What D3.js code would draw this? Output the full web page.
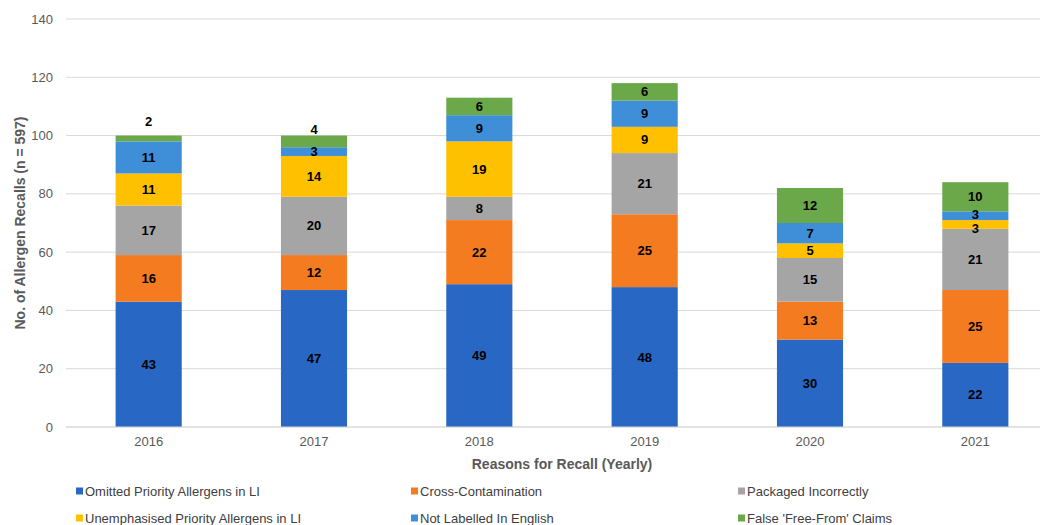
<!DOCTYPE html>
<html><head><meta charset="utf-8">
<script src="https://cdn.jsdelivr.net/npm/d3@7"></script>
<style>body{margin:0;background:#fff;overflow:hidden}svg{display:block;font-family:"Liberation Sans",Arial,sans-serif}</style>
</head><body>
<svg id="c" width="1040" height="525"></svg>
<script>
const years = ["2016","2017","2018","2019","2020","2021"];
const seriesNames = ["Omitted Priority Allergens in LI","Cross-Contamination","Packaged Incorrectly","Unemphasised Priority Allergens in LI","Not Labelled In English","False 'Free-From' Claims"];
const omitted = [43,47,49,48,30,22];
const crossCont = [16,12,22,25,13,25];
const packaged = [17,20,8,21,15,21];
const unemphasised = [11,14,19,9,5,3];
const notEnglish = [11,3,9,9,7,3];
const freeFrom = [2,4,6,6,12,10];
const yTicks = [0,20,40,60,80,100,120,140];
const colors = ["#2967C4","#F47B20","#A5A5A5","#FFC000","#3F8FD8","#6AA84A"];
// label nudges (px) for specific labels: [seriesIndex, yearIndex, dy]
const labelNudges = [[5,0,-17],[5,1,-12],[4,5,-1],[3,5,4]];

const svg = d3.select("#c");
const seriesVals = [omitted,crossCont,packaged,unemphasised,notEnglish,freeFrom];
const rows = years.map((y,i)=>{const o={year:y};seriesNames.forEach((s,j)=>o[s]=seriesVals[j][i]);return o;});
const stack = d3.stack().keys(seriesNames)(rows);

const x = d3.scaleBand().domain(years).range([66,1058]).paddingInner(0.6).paddingOuter(0.3);
const y = d3.scaleLinear().domain([0,140]).range([427,19]);

// grid
svg.append("g").selectAll("line").data(yTicks).join("line")
  .attr("x1",66).attr("x2",1040).attr("y1",d=>y(d)).attr("y2",d=>y(d))
  .attr("stroke","#d9d9d9").attr("stroke-width",1);

// y tick labels
svg.append("g").selectAll("text").data(yTicks).join("text")
  .attr("x",53).attr("y",d=>y(d)).attr("dy","0.35em").attr("text-anchor","end")
  .attr("font-size",13).attr("fill","#595959").text(d=>d);

// bars
stack.forEach((s,si)=>{
  svg.append("g").attr("fill",colors[si]).selectAll("rect").data(s).join("rect")
    .attr("x",d=>x(d.data.year)).attr("width",x.bandwidth())
    .attr("y",d=>y(d[1])).attr("height",d=>y(d[0])-y(d[1]));
});

// labels
stack.forEach((s,si)=>{
  svg.append("g").selectAll("text").data(s).join("text")
    .attr("x",d=>x(d.data.year)+x.bandwidth()/2)
    .attr("y",(d,i)=>{const n=labelNudges.find(v=>v[0]===si&&v[1]===i);return y((d[0]+d[1])/2)+(n?n[2]:0);})
    .attr("dy","0.35em").attr("text-anchor","middle").attr("font-size",13).attr("font-weight","bold").attr("fill","#000")
    .text(d=>d[1]-d[0]);
});

// x axis line
svg.append("line").attr("x1",66).attr("x2",1040).attr("y1",y(0)).attr("y2",y(0)).attr("stroke","#d9d9d9");

// x tick labels
svg.append("g").selectAll("text").data(years).join("text")
  .attr("x",d=>x(d)+x.bandwidth()/2).attr("y",441).attr("dy","0.35em").attr("text-anchor","middle")
  .attr("font-size",13).attr("fill","#595959").text(d=>d);

// axis titles
svg.append("text").attr("x",562).attr("y",464).attr("dy","0.35em").attr("text-anchor","middle")
  .attr("font-size",14).attr("font-weight","bold").attr("fill","#595959").text("Reasons for Recall (Yearly)");
svg.append("text").attr("transform","translate(20,223) rotate(-90)").attr("dy","0.35em").attr("text-anchor","middle")
  .attr("font-size",14).attr("font-weight","bold").attr("fill","#595959").text("No. of Allergen Recalls (n = 597)");

// legend
const legX = [76,411,738], legY = [491,518];
const lg = svg.append("g").selectAll("g").data(seriesNames).join("g")
  .attr("transform",(d,i)=>`translate(${legX[i%3]},${legY[Math.floor(i/3)]})`);
lg.append("rect").attr("x",0).attr("y",-3.5).attr("width",7).attr("height",7).attr("fill",(d,i)=>colors[i]);
lg.append("text").attr("x",9).attr("y",0).attr("dy","0.35em").attr("font-size",13).attr("fill","#404040").text(d=>d);
</script>
</body></html>
